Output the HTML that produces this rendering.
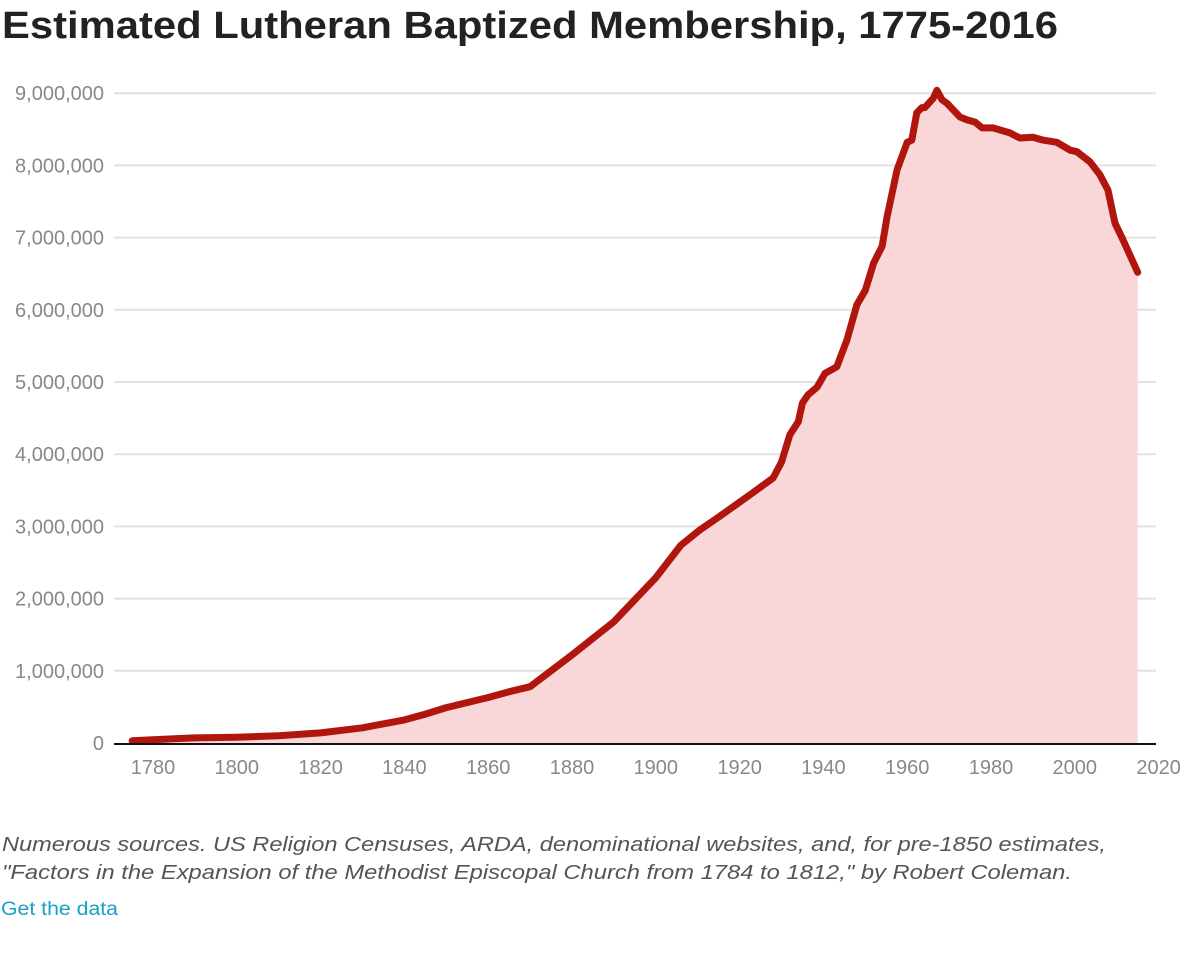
<!DOCTYPE html>
<html><head><meta charset="utf-8"><style>
html,body{margin:0;padding:0;background:#fff;width:1180px;height:980px;overflow:hidden}
svg{display:block;font-family:"Liberation Sans",sans-serif}
</style></head><body>
<svg id="chart" width="1180" height="980">
<text x="2" y="38" font-size="38" font-weight="bold" fill="#222" textLength="1056" lengthAdjust="spacingAndGlyphs">Estimated Lutheran Baptized Membership, 1775-2016</text>
<g id="grid"></g><g id="area"></g><g id="xt"></g>
<text x="2" y="851" font-size="20" font-style="italic" fill="#555" textLength="1104" lengthAdjust="spacingAndGlyphs">Numerous sources. US Religion Censuses, ARDA, denominational websites, and, for pre-1850 estimates,</text>
<text x="2" y="879" font-size="20" font-style="italic" fill="#555" textLength="1070" lengthAdjust="spacingAndGlyphs">"Factors in the Expansion of the Methodist Episcopal Church from 1784 to 1812," by Robert Coleman.</text>
<text x="1" y="915" font-size="19" fill="#1a9fc9" textLength="117" lengthAdjust="spacingAndGlyphs">Get the data</text>
</svg>
<script>
const years=[1775,1785,1790,1800,1810,1820,1830,1840,1845,1850,1860,1865,1870,1880,1890,1900,1906,1910.5,1915,1923,1928,1930,1932,1934,1935,1936.3,1938.5,1940.4,1943.2,1945.6,1948,1950,1952,1954,1955.2,1957.6,1960,1961.1,1962.3,1963.5,1964.2,1966.2,1967.1,1968.3,1969.5,1972.6,1974.3,1976.2,1977.9,1980.5,1984.5,1986.9,1990,1992.4,1995.7,1998.9,2000.5,2003.6,2006,2007.9,2009.6,2011.5,2015];
const members=[0.03,0.06,0.07,0.08,0.10,0.14,0.21,0.32,0.40,0.49,0.63,0.71,0.78,1.22,1.68,2.29,2.74,2.95,3.13,3.46,3.67,3.89,4.27,4.45,4.71,4.82,4.93,5.12,5.21,5.58,6.07,6.27,6.65,6.88,7.29,7.94,8.32,8.35,8.73,8.80,8.80,8.93,9.04,8.91,8.86,8.67,8.63,8.60,8.52,8.52,8.45,8.38,8.39,8.35,8.32,8.21,8.19,8.05,7.87,7.66,7.20,6.97,6.52];
const yTicks=[0,1,2,3,4,5,6,7,8,9];
const yTickLabels=["0","1,000,000","2,000,000","3,000,000","4,000,000","5,000,000","6,000,000","7,000,000","8,000,000","9,000,000"];
const xTicks=[1780,1800,1820,1840,1860,1880,1900,1920,1940,1960,1980,2000,2020];
const X=y=>153+(y-1780)*4.19;
const Y=v=>743-v*72.2;
const NS="http://www.w3.org/2000/svg";
function mk(t,a,p){const e=document.createElementNS(NS,t);for(const k in a)e.setAttribute(k,a[k]);p.appendChild(e);return e;}
const grid=document.getElementById('grid');
yTicks.forEach((v,i)=>{
 if(v>0){const l=mk('line',{x1:114,x2:1156,y1:Y(v),y2:Y(v),stroke:'#e2e2e2','stroke-width':2},grid);
 
 }
 const t=mk('text',{x:104,y:Y(v)+7,'text-anchor':'end','font-size':20,fill:'#888'},grid);
 t.textContent=yTickLabels[i];
 
 
});
const area=document.getElementById('area');
let d=years.map((y,i)=>(i?'L':'M')+X(y).toFixed(1)+','+Y(members[i]).toFixed(1)).join(' ');
const fill=mk('path',{d:d+` L${X(years[years.length-1])},${Y(0)} L${X(years[0])},${Y(0)} Z`,fill:'#f9d6d7'},area);


const ln=mk('path',{d:d,fill:'none',stroke:'#b0160e','stroke-width':7,'stroke-linejoin':'round','stroke-linecap':'round'},area);


const xt=document.getElementById('xt');
const ax=mk('line',{x1:114,x2:1156,y1:744,y2:744,stroke:'#111','stroke-width':2},xt);


xTicks.forEach(y=>{
 const t=mk('text',{x:X(y),y:774,'text-anchor':'middle','font-size':20,fill:'#888'},xt);
 t.textContent=y;
 
 
});
</script>
</body></html>
